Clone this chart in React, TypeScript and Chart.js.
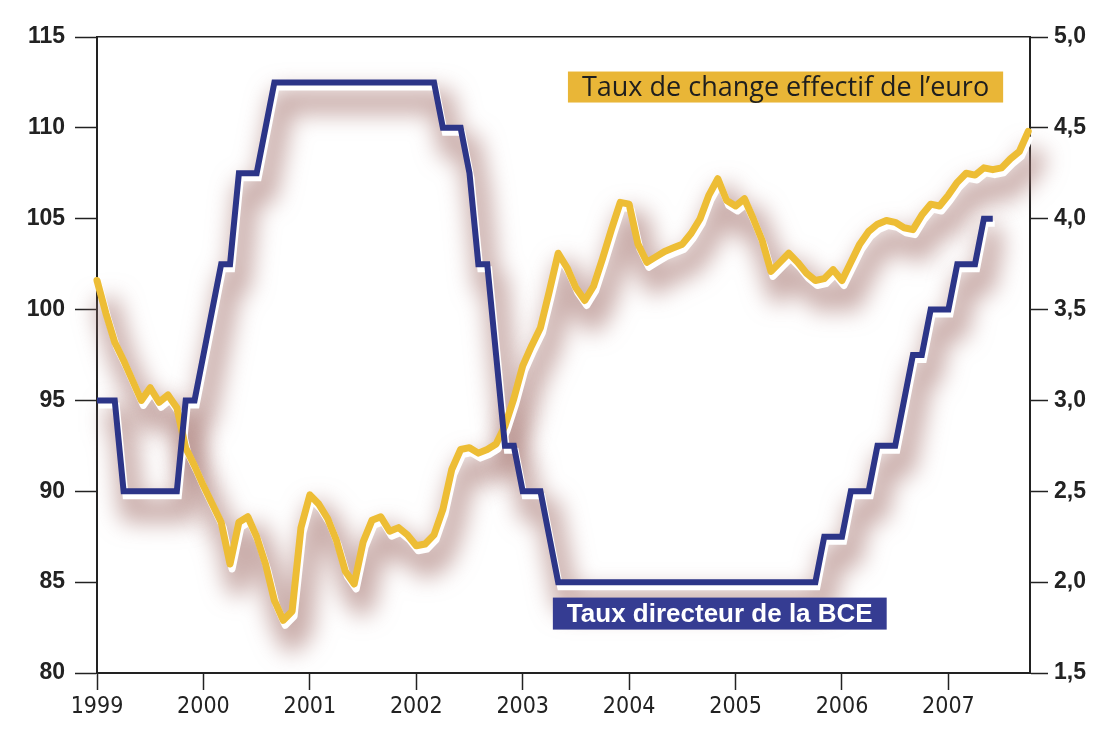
import React, { useEffect, useRef } from 'react';
import { Chart, registerables } from 'chart.js';

Chart.register(...registerables);

// Year tick labels (one tick each January, month index = 12 * i)
const yearLabels = ['1999', '2000', '2001', '2002', '2003', '2004', '2005', '2006', '2007'];
const leftTicks = [80, 85, 90, 95, 100, 105, 110, 115];
const rightTicks = [1.5, 2.0, 2.5, 3.0, 3.5, 4.0, 4.5, 5.0];

// Taux de change effectif de l'euro — monthly, from January 1999 (left axis)
const euroRate = [
  101.6, 99.8, 98.2, 97.2, 96.1, 95.0, 95.7, 94.9, 95.3, 94.6, 92.4, 91.4,
  90.3, 89.3, 88.3, 86.0, 88.3, 88.6, 87.5, 86.0, 84.0, 82.9, 83.4, 88.0,
  89.8, 89.3, 88.5, 87.3, 85.6, 84.9, 87.2, 88.4, 88.6, 87.8, 88.0, 87.6,
  87.0, 87.1, 87.6, 89.0, 91.2, 92.3, 92.4, 92.1, 92.3, 92.6, 93.6, 95.1,
  96.9, 98.0, 99.0, 101.0, 103.1, 102.3, 101.2, 100.5, 101.3, 102.8, 104.4, 105.9,
  105.8, 103.6, 102.6, 102.9, 103.2, 103.4, 103.6, 104.2, 105.0, 106.3, 107.2, 106.0,
  105.7, 106.1, 105.0, 103.8, 102.1, 102.6, 103.1, 102.6, 102.0, 101.6, 101.7, 102.2,
  101.6, 102.6, 103.6, 104.3, 104.7, 104.9, 104.8, 104.5, 104.4, 105.2, 105.8, 105.7,
  106.3, 107.0, 107.5, 107.4, 107.8, 107.7, 107.8, 108.3, 108.7, 109.8,
];

// Taux directeur de la BCE — monthly, from January 1999 (right axis, %)
const ecbRate = [
  3.0, 3.0, 3.0, 2.5, 2.5, 2.5, 2.5, 2.5, 2.5, 2.5, 3.0, 3.0,
  3.25, 3.5, 3.75, 3.75, 4.25, 4.25, 4.25, 4.5, 4.75, 4.75, 4.75, 4.75,
  4.75, 4.75, 4.75, 4.75, 4.75, 4.75, 4.75, 4.75, 4.75, 4.75, 4.75, 4.75,
  4.75, 4.75, 4.75, 4.5, 4.5, 4.5, 4.25, 3.75, 3.75, 3.25, 2.75, 2.75,
  2.5, 2.5, 2.5, 2.25, 2.0, 2.0, 2.0, 2.0, 2.0, 2.0, 2.0, 2.0,
  2.0, 2.0, 2.0, 2.0, 2.0, 2.0, 2.0, 2.0, 2.0, 2.0, 2.0, 2.0,
  2.0, 2.0, 2.0, 2.0, 2.0, 2.0, 2.0, 2.0, 2.0, 2.0, 2.25, 2.25,
  2.25, 2.5, 2.5, 2.5, 2.75, 2.75, 2.75, 3.0, 3.25, 3.25, 3.5, 3.5,
  3.5, 3.75, 3.75, 3.75, 4.0, 4.0,
];

const euroLabel = 'Taux de change effectif de l’euro';
const ecbLabel = 'Taux directeur de la BCE';

const X_MAX = 105.2;
const INK = '#222222';
const YELLOW = '#EDBD35';
const BLUE = '#2C3588';

const toPoints = (arr: number[]) => arr.map((v, i) => ({ x: i, y: v }));

// Decorative copies: a soft drop shadow (drawn off-canvas, only its shadow lands) and a white rim
const FAR = 4000;
const layerPlugin = {
  id: 'layers',
  beforeDatasetDraw(chart: any, args: any) {
    const ds = chart.data.datasets[args.index];
    if (!ds.layer) return;
    const ctx = chart.ctx;
    ctx.save();
    if (ds.layer === 'shadow') {
      ctx.translate(-FAR, 0);
      ctx.shadowColor = 'rgba(168, 122, 116, 0.6)';
      ctx.shadowBlur = 22;
      ctx.shadowOffsetX = FAR + 8;
      ctx.shadowOffsetY = 19;
    } else {
      ctx.translate(2, 5);
    }
  },
  afterDatasetDraw(chart: any, args: any) {
    const ds = chart.data.datasets[args.index];
    if (!ds.layer) return;
    chart.ctx.restore();
  },
};

const labelPlugin = {
  id: 'seriesLabels',
  afterDatasetsDraw(chart: any, _args: any, opts: any) {
    const { ctx } = chart;
    const xs = chart.scales.x;
    const ys = chart.scales.y;
    (opts.boxes || []).forEach((b: any) => {
      ctx.save();
      ctx.font = b.font;
      const w = ctx.measureText(b.text).width + b.padX * 2;
      const left = xs.getPixelForValue(b.x);
      const top = ys.getPixelForValue(b.y);
      ctx.fillStyle = b.bg;
      ctx.fillRect(left, top, w, b.h);
      ctx.fillStyle = b.color;
      ctx.textBaseline = 'middle';
      ctx.textAlign = 'left';
      ctx.fillText(b.text, left + b.padX, top + b.h / 2 + 1);
      ctx.restore();
    });
  },
};

const lineBase = { pointRadius: 0, tension: 0, clip: false as any };

export default function App() {
  const ref = useRef<HTMLCanvasElement>(null);

  useEffect(() => {
    if (!ref.current) return;
    const tickFont = { family: "'Liberation Sans', Arial, sans-serif", size: 23, weight: 'bold' as const };
    const chart = new Chart(ref.current, {
      type: 'line',
      data: {
        datasets: [
          {
            ...lineBase,
            label: ecbLabel,
            data: toPoints(ecbRate),
            yAxisID: 'y2',
            borderColor: BLUE,
            borderWidth: 6,
            borderJoinStyle: 'miter',
            order: 0,
          },
          {
            ...lineBase,
            label: euroLabel,
            data: toPoints(euroRate),
            yAxisID: 'y',
            borderColor: YELLOW,
            borderWidth: 7,
            borderJoinStyle: 'round',
            borderCapStyle: 'round',
            order: 1,
          },
          {
            ...lineBase,
            label: 'rim-ecb',
            data: toPoints(ecbRate),
            yAxisID: 'y2',
            borderColor: '#ffffff',
            borderWidth: 6,
            borderJoinStyle: 'miter',
            order: 3,
            layer: 'rim',
          } as any,
          {
            ...lineBase,
            label: 'rim-euro',
            data: toPoints(euroRate),
            yAxisID: 'y',
            borderColor: '#ffffff',
            borderWidth: 7,
            borderJoinStyle: 'round',
            order: 3,
            layer: 'rim',
          } as any,
          {
            ...lineBase,
            label: 'shadow-ecb',
            data: toPoints(ecbRate),
            yAxisID: 'y2',
            borderColor: '#000000',
            borderWidth: 26,
            borderJoinStyle: 'round',
            order: 5,
            layer: 'shadow',
          } as any,
          {
            ...lineBase,
            label: 'shadow-euro',
            data: toPoints(euroRate),
            yAxisID: 'y',
            borderColor: '#000000',
            borderWidth: 26,
            borderJoinStyle: 'round',
            order: 5,
            layer: 'shadow',
          } as any,
        ],
      },
      options: {
        animation: false,
        responsive: false,
        devicePixelRatio: 1,
        layout: { padding: 0 },
        plugins: {
          legend: { display: false },
          tooltip: { enabled: false },
          seriesLabels: {
            boxes: [
              {
                text: euroLabel,
                x: 53.1,
                y: 113.1,
                h: 31,
                padX: 14,
                bg: '#E9B637',
                color: '#1e1e1e',
                font: "27px 'Open Sans', 'Noto Sans', sans-serif",
              },
              {
                text: ecbLabel,
                x: 51.4,
                y: 84.15,
                h: 32,
                padX: 14,
                bg: '#353C92',
                color: '#ffffff',
                font: "bold 26px 'Liberation Sans', Arial, sans-serif",
              },
            ],
          },
        } as any,
        scales: {
          x: {
            type: 'linear',
            position: 'bottom',
            min: 0,
            max: X_MAX,
            afterBuildTicks: (axis: any) => {
              axis.ticks = yearLabels.map((_, i) => ({ value: i * 12 }));
            },
            afterFit: (axis: any) => {
              axis.height = 64;
            },
            ticks: {
              callback: (v: any) => yearLabels[Math.round(Number(v) / 12)],
              autoSkip: false,
              maxRotation: 0,
              padding: 3,
              color: INK,
              font: { family: "'Liberation Sans Narrow', 'DejaVu Sans Condensed', sans-serif", size: 23 },
            },
            grid: { drawOnChartArea: false, drawTicks: true, tickLength: 17, tickColor: INK, tickWidth: 1.5 },
            border: { display: true, color: INK, width: 2 },
          },
          xTop: {
            type: 'linear',
            position: 'top',
            min: 0,
            max: X_MAX,
            afterFit: (axis: any) => {
              axis.height = 37;
            },
            ticks: { display: false },
            grid: { display: false, drawTicks: false },
            border: { display: true, color: INK, width: 1.5 },
          },
          y: {
            position: 'left',
            min: 80,
            max: 115,
            afterBuildTicks: (axis: any) => {
              axis.ticks = leftTicks.map((v) => ({ value: v }));
            },
            afterFit: (axis: any) => {
              axis.width = 97;
            },
            ticks: { color: INK, padding: 10, font: tickFont },
            grid: { drawOnChartArea: false, drawTicks: true, tickLength: 22, tickColor: INK, tickWidth: 1.5 },
            border: { display: true, color: INK, width: 2 },
          },
          y2: {
            position: 'right',
            min: 1.5,
            max: 5.0,
            afterBuildTicks: (axis: any) => {
              axis.ticks = rightTicks.map((v) => ({ value: v }));
            },
            afterFit: (axis: any) => {
              axis.width = 74;
            },
            ticks: {
              color: INK,
              padding: 6,
              font: tickFont,
              callback: (v: any) => Number(v).toFixed(1).replace('.', ','),
            },
            grid: { drawOnChartArea: false, drawTicks: true, tickLength: 18, tickColor: INK, tickWidth: 1.5 },
            border: { display: true, color: INK, width: 2 },
          },
        },
      } as any,
      plugins: [layerPlugin, labelPlugin],
    });
    return () => chart.destroy();
  }, []);

  return (
    <div style={{ position: 'fixed', left: 0, top: 0, width: 1104, height: 737, background: '#ffffff' }}>
      <canvas ref={ref} width={1104} height={737} style={{ display: 'block' }} />
    </div>
  );
}
